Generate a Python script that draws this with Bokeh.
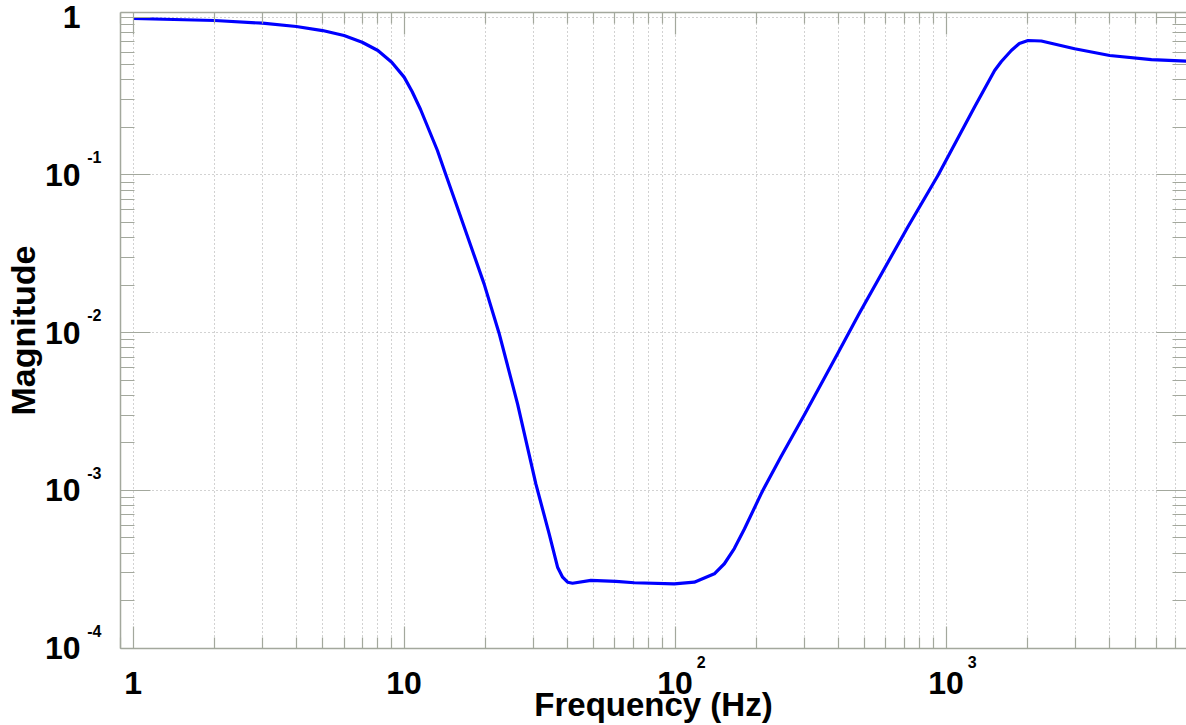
from bokeh.plotting import figure
from bokeh.models import Range1d, LogAxis, FixedTicker, LogScale
from bokeh.embed import file_html
from bokeh.resources import INLINE

# ---- data ----
freq = [1.0, 2.0, 3.0, 4.0, 5.0, 6.0, 7.0, 8.0, 9.0, 10.0, 10.7, 11.5, 13.27, 14.29,
        15.4, 19.73, 22.41, 26.22, 30.63, 34.30, 36.84, 38.45, 40.11, 41.84, 48.9,
        60.5, 70.7, 99.3, 117.7, 139.6, 152.0, 165.4, 180.2, 210.7, 246.1, 300.1,
        398.7, 475.9, 723.4, 933.3, 1274.0, 1511.0, 1600.0, 1741.0, 1864.0, 2007.0,
        2247.0, 2983.0, 4018.0, 5728.0, 7780.0]
mag = [0.981, 0.953, 0.916, 0.873, 0.823, 0.765, 0.694, 0.615, 0.518, 0.417, 0.338,
       0.26, 0.1429, 0.0992, 0.0689, 0.0204, 0.00993, 0.00354, 0.00110, 0.000531,
       0.000326, 0.000282, 0.000262, 0.000258, 0.000269, 0.000265, 0.000260,
       0.000256, 0.000262, 0.000296, 0.000343, 0.000428, 0.000570, 0.00100, 0.00164,
       0.00302, 0.00740, 0.01304, 0.0470, 0.0992, 0.270, 0.4594, 0.524, 0.615, 0.681,
       0.7115, 0.7067, 0.631, 0.572, 0.539, 0.526]

x_ticks = [1, 10, 100, 1000]
x_tick_base = ["1", "10", "10", "10"]
x_tick_exp = ["", "", "2", "3"]
y_ticks = [1e-4, 1e-3, 1e-2, 1e-1, 1]
y_tick_base = ["10", "10", "10", "10", "1"]
y_tick_exp = ["-4", "-3", "-2", "-1", ""]
x_label = "Frequency (Hz)"
y_label = "Magnitude"

x_minor = [m * 10 ** d for d in range(-1, 4) for m in range(2, 10)]
y_minor = [m * 10 ** d for d in range(-5, 0) for m in range(2, 10)]

X0, X1 = 0.898, 7716.0
Y0, Y1 = 0.9955e-4, 1.071
PX_X = 270.7     # pixels per decade, x
PX_Y = 157.75    # pixels per decade, y

AX = "#a3a89d"
GRID = "#a4a4a4"
FONT = "Liberation Sans"

p = figure(width=1186, height=725, x_axis_type="log", y_axis_type="log",
           x_range=Range1d(X0, X1), y_range=Range1d(Y0, Y1),
           output_backend="svg", toolbar_location=None,
           min_border_left=120, min_border_right=0, min_border_top=12,
           min_border_bottom=77)
p.outline_line_color = None
p.background_fill_color = "white"
p.border_fill_color = "white"

# shifted ranges used only to place exponent labels next to their "10"
ksx = 10 ** (-26 / PX_X)
ksy = 10 ** (-17.5 / PX_Y)
p.extra_x_ranges = {"xsup": Range1d(X0 * ksx, X1 * ksx)}
p.extra_x_scales = {"xsup": LogScale()}
p.extra_y_ranges = {"ysup": Range1d(Y0 * ksy, Y1 * ksy)}
p.extra_y_scales = {"ysup": LogScale()}

xt = FixedTicker(ticks=x_ticks, minor_ticks=x_minor)
yt = FixedTicker(ticks=y_ticks, minor_ticks=y_minor)


def tick_axis(ax, ticker, maj, mnr, line=True):
    ax.ticker = ticker
    ax.major_tick_in = maj
    ax.major_tick_out = 0
    ax.minor_tick_in = mnr
    ax.minor_tick_out = 0
    ax.axis_line_color = AX if line else None
    ax.axis_line_width = 1.5
    ax.major_tick_line_color = AX
    ax.minor_tick_line_color = AX
    ax.major_tick_line_width = 1.2
    ax.minor_tick_line_width = 1.2
    ax.major_label_text_font_size = "1px"
    ax.major_label_text_alpha = 0
    ax.major_label_standoff = 0


def label_axis(ax, ticks, labels, size, standoff):
    ax.ticker = FixedTicker(ticks=ticks, minor_ticks=[])
    ax.major_label_overrides = dict(zip(ticks, labels))
    ax.axis_line_color = None
    ax.major_tick_line_color = None
    ax.minor_tick_line_color = None
    ax.major_tick_in = 0
    ax.major_tick_out = 0
    ax.minor_tick_in = 0
    ax.minor_tick_out = 0
    ax.major_label_text_font = FONT
    ax.major_label_text_font_style = "bold"
    ax.major_label_text_font_size = size
    ax.major_label_text_color = "black"
    ax.major_label_standoff = standoff


# tick-only axes on all four sides
tick_axis(p.xaxis[0], xt, 22, 11)
tick_axis(p.yaxis[0], yt, 30, 14)
top = LogAxis()
tick_axis(top, xt, 22, 11)
p.add_layout(top, "above")
right = LogAxis()
tick_axis(right, yt, 30, 14, line=False)
p.add_layout(right, "right")

# y: exponents (inner) then bases (outer, with the axis title)
ysup_ticks = [t for t, e in zip(y_ticks, y_tick_exp) if e]
ysup_labels = [e for e in y_tick_exp if e]
ysup = LogAxis(y_range_name="ysup")
label_axis(ysup, ysup_ticks, ysup_labels, "16px", 19)
p.add_layout(ysup, "left")
ybase = LogAxis()
label_axis(ybase, y_ticks, y_tick_base, "32px", 4)
ybase.axis_label = y_label
ybase.axis_label_text_font = FONT
ybase.axis_label_text_font_style = "bold"
ybase.axis_label_text_font_size = "34px"
ybase.axis_label_text_color = "black"
ybase.axis_label_standoff = 0
p.add_layout(ybase, "left")

# x: exponents (inner) then bases (outer, with the axis title)
xsup_ticks = [t for t, e in zip(x_ticks, x_tick_exp) if e]
xsup_labels = [e for e in x_tick_exp if e]
xsup = LogAxis(x_range_name="xsup")
label_axis(xsup, xsup_ticks, xsup_labels, "16px", 7)
p.add_layout(xsup, "below")
xbase = LogAxis()
label_axis(xbase, x_ticks, x_tick_base, "32px", 1)
xbase.axis_label = x_label
xbase.axis_label_text_font = FONT
xbase.axis_label_text_font_style = "bold"
xbase.axis_label_text_font_size = "33px"
xbase.axis_label_text_color = "black"
xbase.axis_label_standoff = -11
p.add_layout(xbase, "below")

p.xgrid.ticker = xt
p.ygrid.ticker = yt
p.xgrid.grid_line_color = GRID
p.xgrid.grid_line_dash = "1 3"
p.xgrid.minor_grid_line_color = GRID
p.xgrid.minor_grid_line_dash = "1 3"
p.ygrid.grid_line_color = GRID
p.ygrid.grid_line_dash = "1 3"
p.ygrid.minor_grid_line_color = None

p.line(freq, mag, line_color="#0000ff", line_width=3.2, line_join="round")

open("out.html", "w").write(file_html(p, INLINE))
